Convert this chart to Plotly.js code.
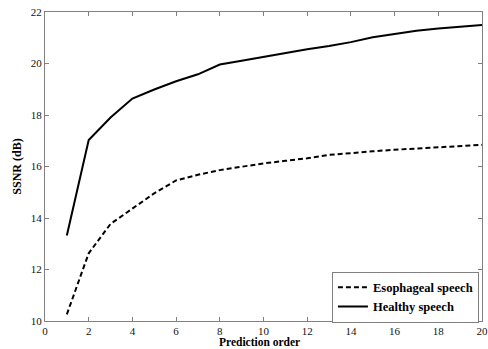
<!DOCTYPE html>
<html>
<head>
<meta charset="utf-8">
<script src="https://cdn.plot.ly/plotly-3.0.1.min.js"></script>
<style>html,body{margin:0;padding:0;background:#fff}#chart{width:488px;height:349px}</style>
</head>
<body>
<div id="chart"></div>
<script>
const order = [1,2,3,4,5,6,7,8,9,10,11,12,13,14,15,16,17,18,19,20];
const esophageal = [10.26,12.63,13.77,14.38,14.96,15.46,15.68,15.86,15.99,16.12,16.22,16.32,16.45,16.53,16.59,16.65,16.70,16.75,16.80,16.84];
const healthy = [13.32,17.03,17.90,18.64,18.99,19.31,19.58,19.96,20.11,20.26,20.40,20.55,20.68,20.83,21.02,21.14,21.27,21.36,21.43,21.50];
const xTicks = [0,2,4,6,8,10,12,14,16,18,20];
const yTicks = [10,12,14,16,18,20,22];

const serif = 'Liberation Serif';
const traces = [
  {x: order, y: esophageal, mode: 'lines', name: 'Esophageal speech',
   line: {color: '#000', width: 2, dash: '5px,3px'}},
  {x: order, y: healthy, mode: 'lines', name: 'Healthy speech',
   line: {color: '#000', width: 2}}
];
function axisBase() {
  return {
    showgrid: false, zeroline: false, showline: true, linecolor: '#808080', linewidth: 1,
    mirror: 'ticks', ticks: 'inside', ticklen: 4, tickcolor: '#808080',
    ticklabeloverflow: 'allow',
    tickfont: {family: serif, size: 11, color: '#111'}
  };
}
const layout = {
  width: 488, height: 349,
  margin: {l: 45, r: 6, t: 12, b: 28},
  paper_bgcolor: '#fff', plot_bgcolor: '#fff',
  font: {family: serif},
  showlegend: true,
  legend: {x: 0.993, y: -0.005, xanchor: 'right', yanchor: 'bottom',
    bordercolor: '#808080', borderwidth: 1, bgcolor: '#fff',
    font: {family: serif, size: 12.5, color: '#000', weight: 'bold'},
    tracegroupgap: 0, itemwidth: 30},
  xaxis: Object.assign(axisBase(), {range: [0, 20], tickvals: xTicks, ticktext: xTicks.map(String)}),
  yaxis: Object.assign(axisBase(), {range: [10, 22], tickvals: yTicks, ticktext: yTicks.map(String),
    title: {text: 'SSNR (dB)', font: {family: serif, size: 12, color: '#000', weight: 'bold'}, standoff: 6}}),
  annotations: [{text: 'Prediction order', xref: 'paper', yref: 'paper', x: 0.5, y: 0,
    xanchor: 'center', yanchor: 'top', yshift: -13, xshift: -4, showarrow: false,
    font: {family: serif, size: 11.5, color: '#000', weight: 'bold'}}]
};
Plotly.newPlot('chart', traces, layout, {staticPlot: true, displayModeBar: false});
</script>
</body>
</html>
